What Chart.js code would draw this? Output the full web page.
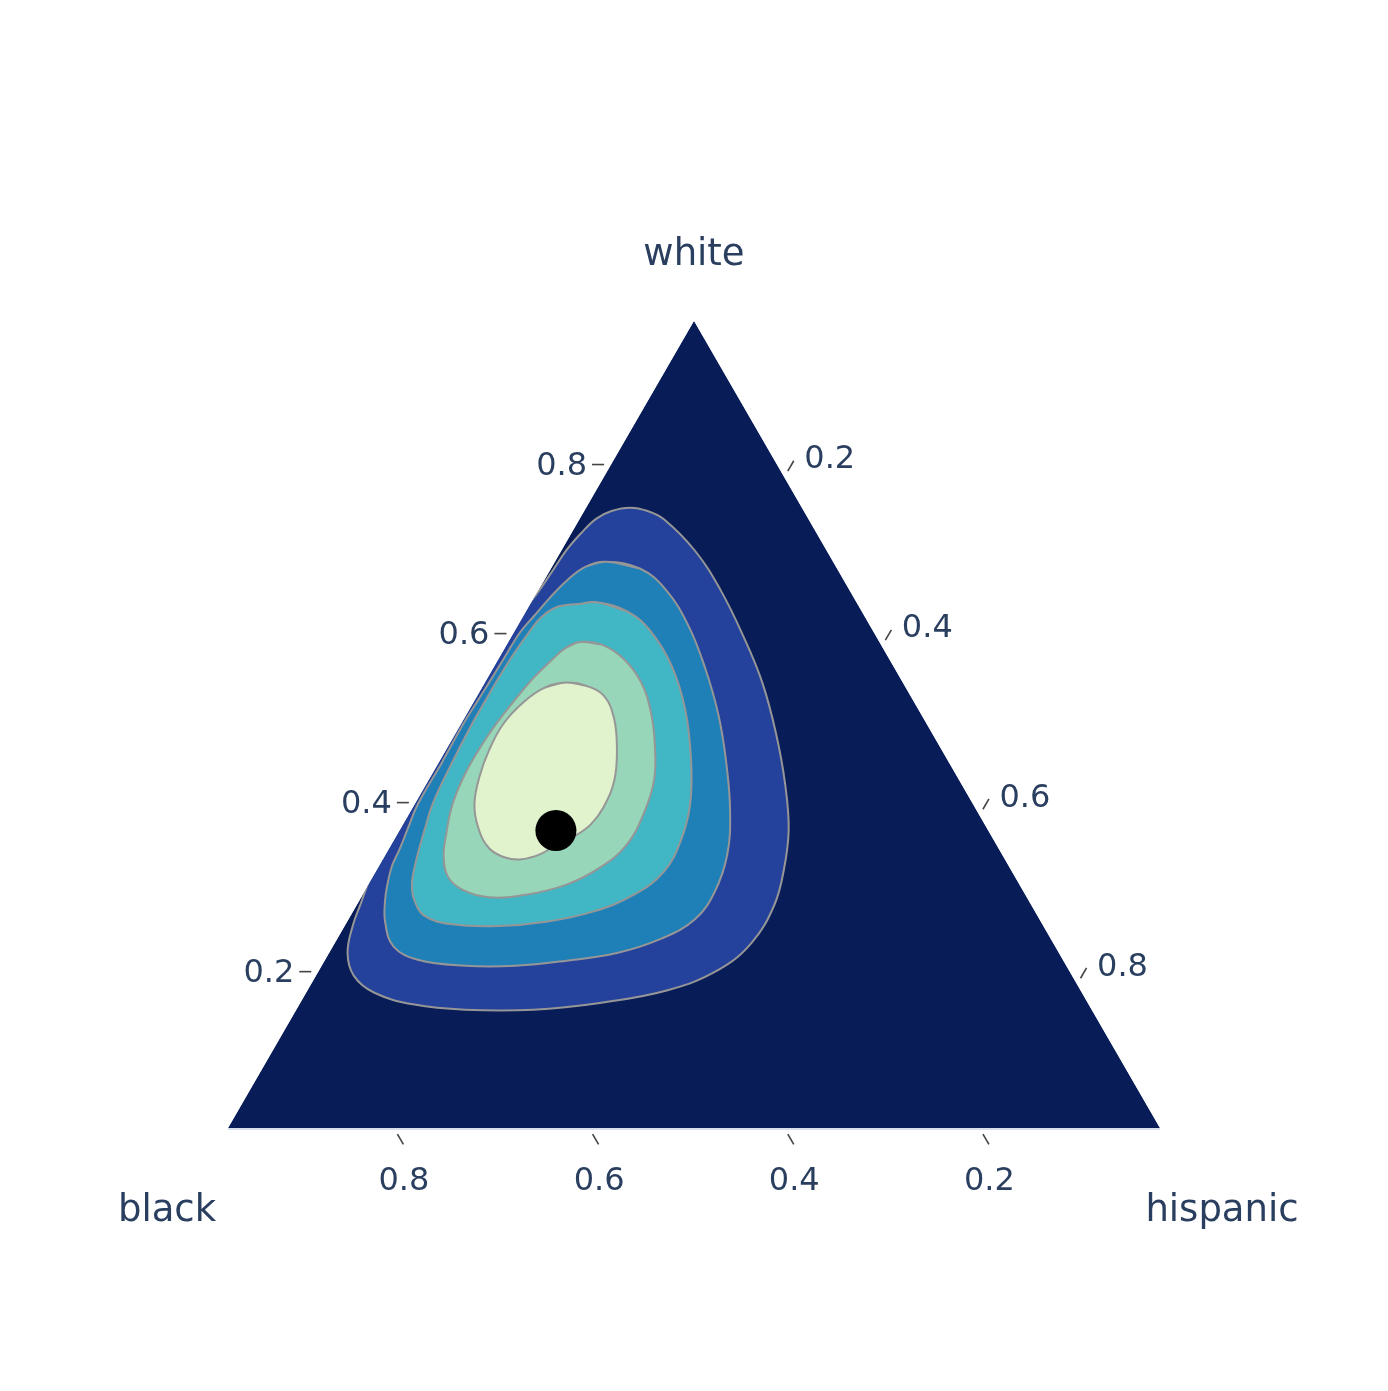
<!DOCTYPE html>
<html>
<head>
<meta charset="utf-8">
<script src="https://cdn.jsdelivr.net/npm/chart.js@4.4.1/dist/chart.umd.min.js"></script>
<style>
  body { margin: 0; background: #fff; }
  canvas { display: block; }
</style>
</head>
<body>
<canvas id="myChart" width="1388" height="1391"></canvas>
<script>
// ternary axes: white (top), black (bottom left), hispanic (bottom right)
const axisTitles = ['white', 'black', 'hispanic'];
const axisMin = 0.015;
const tickValues = [0.2, 0.4, 0.6, 0.8];

// contour boundaries, each point is [white, black, hispanic]
const level1 = [
  [0.415,0.578,0.007],[0.516,0.476,0.008],[0.628,0.359,0.013],[0.652,0.332,0.016],[0.675,0.307,0.018],
  [0.699,0.281,0.020],[0.719,0.256,0.025],[0.736,0.232,0.032],[0.745,0.212,0.043],[0.749,0.191,0.060],
  [0.745,0.175,0.080],[0.735,0.163,0.102],[0.698,0.150,0.152],[0.652,0.147,0.201],[0.597,0.151,0.252],
  [0.542,0.159,0.299],[0.482,0.175,0.343],[0.421,0.196,0.383],[0.368,0.219,0.413],[0.320,0.248,0.432],
  [0.278,0.279,0.443],[0.234,0.324,0.442],[0.202,0.374,0.424],[0.178,0.438,0.384],[0.163,0.515,0.322],
  [0.155,0.587,0.258],[0.155,0.657,0.188],[0.161,0.706,0.133],[0.175,0.740,0.085],[0.195,0.751,0.054],
  [0.222,0.744,0.034],[0.255,0.722,0.023],[0.282,0.700,0.018],[0.304,0.682,0.014],[0.325,0.664,0.011],
  [0.344,0.650,0.006]
];
const level2 = [
  [0.685,0.248,0.067],[0.677,0.217,0.106],[0.652,0.203,0.145],[0.610,0.201,0.189],[0.559,0.209,0.232],
  [0.504,0.223,0.273],[0.448,0.243,0.309],[0.390,0.268,0.342],[0.338,0.297,0.365],[0.294,0.332,0.374],
  [0.262,0.368,0.370],[0.239,0.414,0.347],[0.222,0.468,0.310],[0.213,0.524,0.263],[0.207,0.579,0.214],
  [0.207,0.631,0.162],[0.214,0.676,0.110],[0.230,0.693,0.077],[0.259,0.687,0.054],[0.285,0.674,0.041],
  [0.304,0.662,0.034],[0.325,0.647,0.028],[0.344,0.630,0.026],[0.370,0.608,0.022],[0.398,0.584,0.018],
  [0.446,0.536,0.018],[0.493,0.490,0.017],[0.518,0.464,0.018],[0.542,0.439,0.019],[0.571,0.409,0.020],
  [0.601,0.378,0.021],[0.622,0.352,0.026],[0.642,0.327,0.031],[0.662,0.300,0.038],[0.679,0.272,0.049]
];
const level3 = [
  [0.637,0.281,0.082],[0.626,0.255,0.119],[0.602,0.243,0.155],[0.562,0.242,0.196],[0.510,0.254,0.236],
  [0.450,0.278,0.272],[0.398,0.305,0.297],[0.355,0.336,0.309],[0.318,0.372,0.310],[0.291,0.416,0.293],
  [0.271,0.468,0.261],[0.259,0.522,0.219],[0.254,0.573,0.173],[0.256,0.620,0.124],[0.266,0.643,0.091],
  [0.286,0.644,0.070],[0.304,0.637,0.059],[0.320,0.627,0.053],[0.344,0.610,0.046],[0.368,0.592,0.040],
  [0.398,0.569,0.033],[0.439,0.532,0.029],[0.493,0.481,0.026],[0.521,0.453,0.026],[0.542,0.432,0.026],
  [0.572,0.401,0.027],[0.601,0.369,0.030],[0.620,0.346,0.034],[0.632,0.323,0.045],[0.635,0.301,0.064]
];
const level4 = [
  [0.590,0.322,0.088],[0.587,0.301,0.112],[0.570,0.287,0.143],[0.542,0.283,0.175],[0.506,0.291,0.203],
  [0.466,0.307,0.227],[0.426,0.328,0.246],[0.387,0.358,0.255],[0.350,0.394,0.256],[0.323,0.435,0.242],
  [0.303,0.479,0.218],[0.291,0.527,0.182],[0.288,0.566,0.146],[0.297,0.589,0.114],[0.313,0.596,0.091],
  [0.337,0.588,0.075],[0.362,0.573,0.065],[0.396,0.550,0.054],[0.427,0.524,0.049],[0.456,0.496,0.048],
  [0.488,0.462,0.050],[0.518,0.427,0.055],[0.545,0.394,0.061],[0.569,0.361,0.070],[0.583,0.340,0.077]
];
const level5 = [
  [0.542,0.360,0.098],[0.538,0.341,0.121],[0.526,0.329,0.145],[0.500,0.332,0.168],[0.466,0.346,0.188],
  [0.427,0.368,0.205],[0.394,0.396,0.210],[0.374,0.419,0.207],[0.361,0.441,0.198],[0.351,0.464,0.185],
  [0.339,0.488,0.173],[0.333,0.510,0.157],[0.335,0.526,0.139],[0.346,0.537,0.117],[0.370,0.536,0.094],
  [0.398,0.526,0.076],[0.430,0.505,0.065],[0.462,0.479,0.059],[0.493,0.449,0.058],[0.519,0.415,0.066],
  [0.536,0.385,0.079]
];
const dotPoint = [0.367, 0.458, 0.175];

const bgColor = 'rgb(8,29,88)';
const levelColors = ['rgb(36,66,155)', 'rgb(31,128,184)', 'rgb(65,182,196)', 'rgb(151,214,185)', 'rgb(224,243,205)'];
const textColor = '#2a3f5f';
const fontName = '"DejaVu Sans", Verdana, sans-serif';

var span = 1 - 3 * axisMin;
var h = Math.sqrt(3) / 2;

// ternary -> plane (left corner 0,0 / right corner 1,0 / top 0.5,h)
function toXY(t) {
  var a = (t[0] - axisMin) / span;
  var c = (t[2] - axisMin) / span;
  return { x: c + a / 2, y: a * h };
}

// repeat the ends so the smoothed outline joins up
function closedLoop(pts) {
  var n = pts.length;
  return [pts[n - 1]].concat(pts, [pts[0], pts[1]]).map(toXY);
}

var corners = [
  [1 - 2 * axisMin, axisMin, axisMin],
  [axisMin, 1 - 2 * axisMin, axisMin],
  [axisMin, axisMin, 1 - 2 * axisMin]
];

function pix(chart, t) {
  var p = toXY(t);
  return [chart.scales.x.getPixelForValue(p.x), chart.scales.y.getPixelForValue(p.y)];
}

var ternaryPlugin = {
  id: 'ternary',
  beforeDatasetsDraw: function (chart) {
    var ctx = chart.ctx;
    ctx.save();
    ctx.beginPath();
    corners.forEach(function (t, i) {
      var p = pix(chart, t);
      if (i === 0) ctx.moveTo(p[0], p[1]); else ctx.lineTo(p[0], p[1]);
    });
    ctx.closePath();
    ctx.clip();
  },
  afterDatasetsDraw: function (chart) {
    chart.ctx.restore();
  },
  afterDraw: function (chart) {
    var ctx = chart.ctx;
    var top = pix(chart, corners[0]);
    var left = pix(chart, corners[1]);
    var right = pix(chart, corners[2]);
    ctx.save();

    // faint base line under the bottom edge
    ctx.strokeStyle = '#c8d4e3';
    ctx.lineWidth = 1.5;
    ctx.beginPath();
    ctx.moveTo(left[0], left[1] + 1);
    ctx.lineTo(right[0], right[1] + 1);
    ctx.stroke();

    ctx.strokeStyle = '#444';
    ctx.lineWidth = 1.6;
    ctx.fillStyle = textColor;
    ctx.font = '32px ' + fontName;
    ctx.textBaseline = 'alphabetic';

    function tick(e, dx, dy) {
      ctx.beginPath();
      ctx.moveTo(e[0] + dx * 7, e[1] + dy * 7);
      ctx.lineTo(e[0] + dx * 19, e[1] + dy * 19);
      ctx.stroke();
    }

    tickValues.forEach(function (v) {
      var lbl = String(v);
      // white on left edge
      var e = pix(chart, [v, 1 - v - axisMin, axisMin]);
      tick(e, -1, 0);
      ctx.textAlign = 'right';
      ctx.fillText(lbl, e[0] - 24, e[1] + 10);
      // hispanic on right edge
      e = pix(chart, [1 - v - axisMin, axisMin, v]);
      tick(e, 0.5, -h);
      ctx.textAlign = 'left';
      ctx.fillText(lbl, e[0] + 12 + 8, e[1] - 24 * h + 12);
      // black on bottom edge
      e = pix(chart, [axisMin, v, 1 - v - axisMin]);
      tick(e, 0.5, h);
      ctx.textAlign = 'center';
      ctx.fillText(lbl, e[0] + 10, e[1] + 62);
    });

    ctx.font = '37px ' + fontName;
    ctx.textAlign = 'center';
    ctx.fillText(axisTitles[0], top[0], top[1] - 56);
    ctx.fillText(axisTitles[1], left[0] - 61, left[1] + 93);
    ctx.fillText(axisTitles[2], right[0] + 62, right[1] + 93);
    ctx.restore();
  }
};

var levels = [level1, level2, level3, level4, level5];
var datasets = [{
  data: corners.map(toXY),
  showLine: true,
  fill: 'shape',
  backgroundColor: bgColor,
  borderWidth: 0,
  pointRadius: 0,
  tension: 0,
  order: 10
}];
levels.forEach(function (lv, i) {
  datasets.push({
    data: closedLoop(lv),
    showLine: true,
    fill: 'shape',
    backgroundColor: levelColors[i],
    borderColor: 'rgb(150,150,150)',
    borderWidth: 2,
    pointRadius: 0,
    tension: 0.4,
    order: 9 - i
  });
});
datasets.push({
  data: [toXY(dotPoint)],
  pointRadius: 20.5,
  pointBackgroundColor: '#000',
  pointBorderWidth: 0,
  order: 0
});

var myChart = new Chart(document.getElementById('myChart'), {
  type: 'scatter',
  data: { datasets: datasets },
  options: {
    responsive: false,
    devicePixelRatio: 1,
    animation: false,
    layout: { padding: 0, autoPadding: false },
    plugins: { legend: { display: false }, tooltip: { enabled: false } },
    scales: {
      x: { display: false, min: -228 / 932, max: 1 + 228 / 932 },
      y: { display: false, min: -263 / 932, max: 1128 / 932 }
    }
  },
  plugins: [ternaryPlugin]
});
</script>
</body>
</html>
